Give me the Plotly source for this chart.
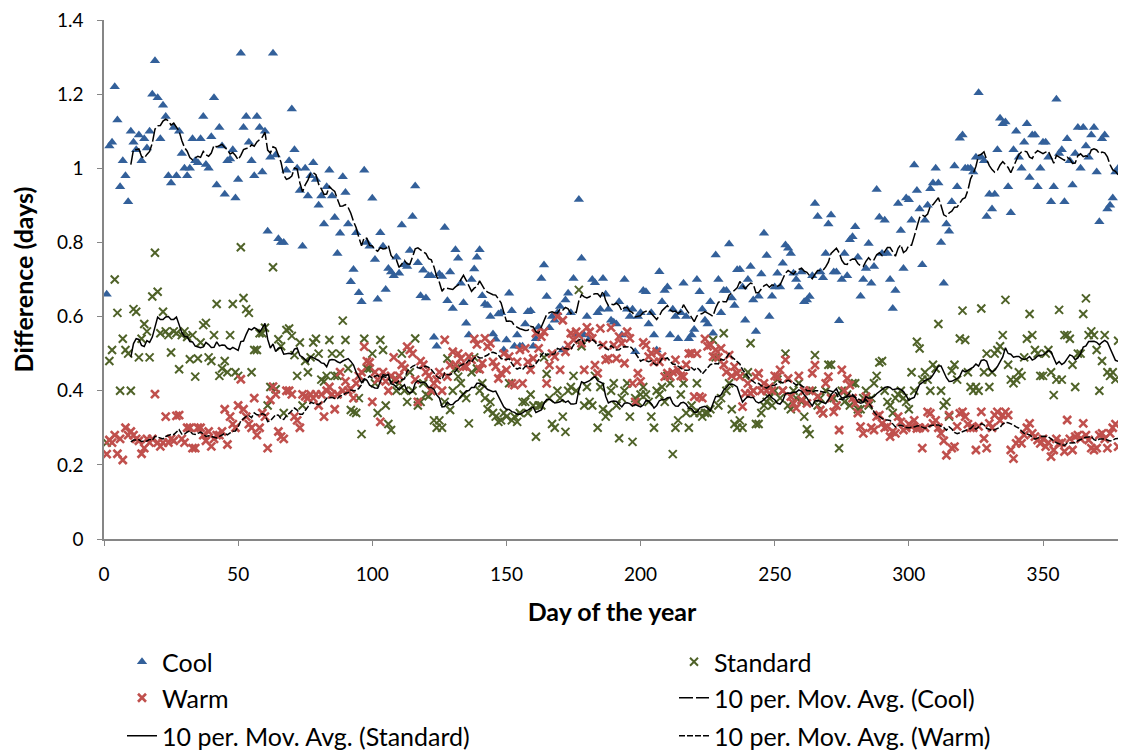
import plotly.graph_objects as go

# ---------------- data ----------------
cool = [
    .66, 1.06, 1.07, 1.22, 1.13, .95, 1.02, .98, .91, 1.10,
    1.07, 1.05, 1.09, 1.02, 1.08, 1.055, 1.10, 1.20, 1.29, 1.19,
    1.08, 1.17, 1.14, .98, .96, 1.11, .98, 1.10, 1.04, 1.00,
    .98, 1.00, 1.08, 1.02, 1.015, 1.08, 1.14, 1.01, 1.00, 1.085,
    1.19, .955, 1.11, 1.06, .93, 1.02, 1.025, 1.05, .92, .97,
    1.31, 1.11, 1.14, 1.07, 1.02, .98, 1.14, 1.11, .99, 1.10,
    .83, 1.03, 1.31, 1.036, .81, .80, .80, .995, 1.02, 1.16,
    1.05, 1.00, .94, .79, 1.00, .925, .98, 1.015, .97, .90,
    .925, .85, .95, .995, .925, .867, .77, .825, .977, .935,
    .85, .694, .727, .826, .664, .64, .995, .80, .79, .919,
    .754, .647, .826, .79, .673, .73, .72, .71, .76, .717,
    .847, .74, .735, .778, .87, .952, .745, .656, .725, .65,
    .71, .71, .544, .52, .715, .708, .84, .643, .72, .622,
    .78, .757, .69, .637, .582, .55, .70, .728, .76, .78,
    .656, .634, .63, .60, .553, .539, .607, .61, .51, .537,
    .663, .616, .52, .55, .52, .52, .58, .613, .616, .52,
    .54, .571, .703, .739, .654, .57, .60, .59, .61, .627,
    .51, .645, .663, .61, .703, .55, .916, .757, .55, .60,
    .54, .70, .691, .61, .62, .703, .66, .62, .59, .585,
    .58, .64, .55, .70, .62, .60, .62, .505, .60, .61,
    .67, .667, .58, .61, .55, .51, .721, .64, .67, .68,
    .55, .62, .60, .54, .61, .69, .60, .54, .55, .565,
    .70, .667, .62, .59, .58, .64, .555, .766, .70, .61,
    .67, .67, .796, .65, .63, .726, .727, .68, .59, .70,
    .735, .645, .56, .655, .715, .825, .765, .60, .655, .68,
    .717, .68, .744, .793, .784, .77, .717, .70, .68, .72,
    .64, .645, .654, .71, .905, .87, .72, .705, .77, .85,
    .874, .72, .72, .589, .70, .77, .71, .807, .815, .842,
    .76, .655, .70, .73, .797, .69, .735, .943, .868, .77,
    .86, .77, .70, .622, .67, .905, .832, .73, .92, .915,
    .86, 1.009, .94, .89, .74, .86, .90, .945, .96, 1.0,
    .96, .80, .69, .85, .83, .91, 1.006, .95, 1.081, 1.09,
    1.0, 1.0, 1.0, .99, 1.03, 1.204, 1.03, 1.02, .87, .93,
    .89, .93, 1.05, 1.135, 1.12, 1.125, .95, .88, 1.05, 1.10,
    1.03, 1.0, 1.07, 1.12, .975, 1.09, 1.09, .95, 1.0, 1.07,
    1.07, 1.03, .91, .95, 1.186, 1.04, 1.05, .91, 1.08, 1.02,
    .955, 1.04, 1.11, 1.0, 1.11, 1.06, 1.03, 1.09, 1.11, .99,
    .856, 1.08, 1.09, .89, .90, .92, .99, 1.0,
]

standard = [
    .26, .48, .51, .70, .61, .40, .54, .51, .50, .40,
    .62, .613, .49, .54, .58, .56, .49, .654, .772, .667,
    .555, .613, .56, .55, .503, .56, .555, .458, .55, .56,
    .545, .485, .55, .438, .487, .53, .577, .583, .49, .48,
    .55, .634, .44, .46, .48, .45, .55, .634, .45, .44,
    .787, .65, .62, .61, .45, .51, .51, .555, .555, .57,
    .36, .41, .733, .404, .539, .52, .34, .564, .568, .548,
    .496, .44, .53, .36, .48, .45, .49, .53, .54, .50,
    .43, .425, .44, .537, .50, .44, .44, .50, .589, .537,
    .46, .348, .343, .34, .38, .283, .54, .46, .46, .50,
    .42, .34, .537, .51, .36, .31, .294, .43, .40, .42,
    .50, .40, .37, .45, .40, .541, .36, .37, .42, .39,
    .385, .40, .32, .30, .32, .30, .37, .487, .348, .40,
    .46, .438, .42, .39, .38, .312, .45, .49, .46, .40,
    .42, .38, .35, .37, .34, .33, .316, .32, .34, .33,
    .42, .32, .33, .316, .34, .37, .37, .34, .39, .36,
    .276, .36, .36, .49, .445, .38, .31, .30, .40, .38,
    .33, .289, .40, .41, .44, .40, .672, .52, .36, .41,
    .37, .36, .44, .30, .41, .35, .33, .34, .40, .42,
    .36, .272, .38, .40, .42, .33, .262, .38, .37, .39,
    .41, .39, .37, .33, .30, .40, .39, .41, .37, .44,
    .42, .229, .30, .32, .39, .42, .34, .30, .36, .34,
    .42, .34, .33, .34, .34, .35, .537, .49, .36, .38,
    .555, .40, .42, .35, .31, .30, .32, .30, .44, .45,
    .528, .40, .31, .31, .34, .36, .37, .38, .36, .40,
    .43, .38, .40, .50, .36, .35, .40, .38, .42, .37,
    .33, .296, .283, .40, .496, .36, .38, .34, .40, .47,
    .47, .38, .36, .245, .40, .37, .39, .36, .42, .42,
    .35, .35, .38, .40, .36, .38, .42, .44, .476, .48,
    .40, .37, .36, .34, .38, .39, .40, .38, .37, .35,
    .45, .40, .532, .514, .43, .45, .43, .40, .47, .46,
    .58, .40, .36, .37, .33, .454, .47, .43, .541, .616,
    .537, .45, .41, .40, .41, .40, .622, .45, .50, .41,
    .45, .50, .51, .52, .55, .645, .47, .43, .42, .43,
    .45, .44, .49, .54, .607, .55, .51, .50, .44, .44,
    .50, .51, .45, .388, .43, .618, .43, .55, .55, .54,
    .47, .41, .50, .50, .607, .649, .55, .56, .55, .51,
    .40, .48, .55, .45, .44, .45, .43, .535,
]

warm = [
    .229, .267, .26, .28, .23, .27, .213, .30, .28, .29,
    .28, .27, .265, .23, .245, .27, .26, .27, .391, .26,
    .25, .26, .33, .26, .27, .265, .332, .334, .27, .26,
    .30, .30, .245, .245, .30, .30, .28, .265, .29, .25,
    .27, .28, .28, .29, .35, .255, .33, .31, .30, .36,
    .431, .35, .33, .31, .30, .38, .28, .30, .34, .33,
    .245, .375, .411, .39, .29, .276, .27, .40, .40, .39,
    .33, .32, .30, .39, .385, .38, .39, .38, .39, .36,
    .39, .33, .40, .41, .39, .35, .39, .45, .40, .425,
    .40, .405, .38, .42, .44, .45, .519, .48, .476, .37,
    .45, .43, .316, .45, .425, .40, .44, .49, .43, .44,
    .47, .46, .519, .51, .50, .43, .37, .48, .47, .45,
    .44, .40, .42, .43, .45, .40, .537, .438, .469, .505,
    .47, .50, .487, .465, .465, .492, .483, .54, .525, .458,
    .474, .541, .519, .528, .478, .465, .433, .447, .50, .456,
    .492, .42, .415, .478, .51, .42, .514, .478, .456, .487,
    .555, .514, .546, .559, .42, .469, .50, .492, .60, .456,
    .59, .505, .523, .555, .537, .559, .55, .528, .456, .571,
    .559, .541, .469, .447, .568, .523, .483, .487, .57, .523,
    .487, .546, .528, .474, .559, .541, .42, .37, .447, .425,
    .53, .523, .492, .501, .478, .505, .478, .492, .438, .447,
    .438, .45, .483, .456, .44, .438, .47, .50, .501, .384,
    .50, .384, .38, .54, .52, .523, .492, .51, .49, .514,
    .47, .45, .496, .44, .465, .447, .438, .357, .393, .42,
    .393, .40, .438, .447, .40, .42, .40, .41, .40, .44,
    .438, .456, .40, .483, .433, .384, .366, .353, .44, .375,
    .40, .366, .40, .447, .469, .384, .348, .339, .42, .438,
    .38, .343, .36, .294, .456, .40, .433, .415, .38, .366,
    .34, .303, .285, .384, .366, .30, .294, .33, .334, .312,
    .30, .303, .276, .29, .285, .33, .316, .294, .30, .31,
    .303, .32, .298, .30, .245, .30, .343, .339, .312, .32,
    .30, .285, .265, .226, .334, .245, .249, .304, .339, .343,
    .33, .31, .30, .30, .24, .304, .343, .271, .245, .312,
    .30, .334, .343, .32, .334, .343, .334, .24, .217, .258,
    .267, .258, .28, .30, .312, .285, .276, .267, .258, .27,
    .249, .26, .222, .24, .27, .258, .26, .236, .321, .27,
    .24, .276, .28, .27, .312, .28, .267, .245, .24, .245,
    .28, .285, .27, .245, .285, .30, .31, .249,
]

days = list(range(1, len(cool) + 1))

x_ticks = [0, 50, 100, 150, 200, 250, 300, 350]
y_ticks = [0, 0.2, 0.4, 0.6, 0.8, 1.0, 1.2, 1.4]
y_tick_labels = ["0", "0.2", "0.4", "0.6", "0.8", "1", "1.2", "1.4"]

PERIOD = 10


def moving_average(vals, period):
    xs, ys = [], []
    for i in range(period - 1, len(vals)):
        xs.append(days[i])
        ys.append(sum(vals[i - period + 1:i + 1]) / period)
    return xs, ys


COOL_C = "#33609A"
STD_C = "#4F6228"
WARM_C = "#C0504D"
FONT = "Lato"
TXT = 25

fig = go.Figure()

fig.add_trace(go.Scatter(x=days, y=cool, mode="markers", name="Cool",
                         marker=dict(symbol="triangle-up", size=9, color=COOL_C),
                         legend="legend"))
fig.add_trace(go.Scatter(x=days, y=standard, mode="markers", name="Standard",
                         marker=dict(symbol="x-thin", size=8, color=STD_C,
                                     line=dict(color=STD_C, width=2)),
                         legend="legend2"))
fig.add_trace(go.Scatter(x=days, y=warm, mode="markers", name="Warm",
                         marker=dict(symbol="x-thin", size=8, color=WARM_C,
                                     line=dict(color=WARM_C, width=2.6)),
                         legend="legend3"))

mx, my = moving_average(cool, PERIOD)
fig.add_trace(go.Scatter(x=mx, y=my, mode="lines", name="10 per. Mov. Avg. (Cool)",
                         line=dict(color="black", width=1.5, dash="14px,3px"),
                         legend="legend4"))
mx, my = moving_average(standard, PERIOD)
fig.add_trace(go.Scatter(x=mx, y=my, mode="lines", name="10 per. Mov. Avg. (Standard)",
                         line=dict(color="black", width=1.5),
                         legend="legend5"))
mx, my = moving_average(warm, PERIOD)
fig.add_trace(go.Scatter(x=mx, y=my, mode="lines", name="10 per. Mov. Avg. (Warm)",
                         line=dict(color="black", width=1.5, dash="6px,2px"),
                         legend="legend6"))

# The page draws the figure 8 px in from the window's top-left corner.
# Target plot area in the screenshot: x 104..1120 px, y 20..539 px.
PH = 519.0
def ly(py):
    return (539.0 - py) / PH

def lx(px):
    return (px - 104.0) / 1016.0

leg_common = dict(font=dict(family=FONT, size=TXT, color="black"),
                  bgcolor="rgba(0,0,0,0)", xanchor="left", yanchor="middle",
                  borderwidth=0)
col1 = lx(122)
col2 = lx(674)
fig.update_layout(
    legend=dict(x=col1, y=ly(662), **leg_common),
    legend2=dict(x=col2, y=ly(662), **leg_common),
    legend3=dict(x=col1, y=ly(698), **leg_common),
    legend4=dict(x=col2, y=ly(698), **leg_common),
    legend5=dict(x=col1, y=ly(736), **leg_common),
    legend6=dict(x=col2, y=ly(736), **leg_common),
)

fig.update_layout(
    width=1118, height=746,
    margin=dict(l=96, r=6, t=12, b=215, autoexpand=False),
    paper_bgcolor="white", plot_bgcolor="white",
    font=dict(family=FONT, size=18, color="black"),
    showlegend=True,
    xaxis=dict(range=[0, 378.7], tickmode="array", tickvals=x_ticks,
               ticktext=[str(v) for v in x_ticks], automargin=False,
               ticklabeloverflow="allow",
               showgrid=False, zeroline=False, showline=True,
               linecolor="#868686", linewidth=1.5,
               ticks="outside", ticklen=5, tickcolor="#868686",
               ticklabelstandoff=12,
               tickfont=dict(family=FONT, size=19, color="black"),
               title=dict(text="<b>Day of the year</b>", standoff=20,
                          font=dict(family=FONT, size=TXT, color="black"))),
    yaxis=dict(range=[0, 1.4], tickmode="array", tickvals=y_ticks,
               ticktext=y_tick_labels, automargin=False,
               ticklabeloverflow="allow",
               showgrid=False, zeroline=False, showline=True,
               linecolor="#868686", linewidth=1.5,
               ticks="outside", ticklen=5, tickcolor="#868686",
               ticklabelstandoff=10,
               tickfont=dict(family=FONT, size=19, color="black"),
               title=dict(text="<b>Difference (days)</b>", standoff=18,
                          font=dict(family=FONT, size=TXT, color="black"))),
)

fig.write_html("out.html")
